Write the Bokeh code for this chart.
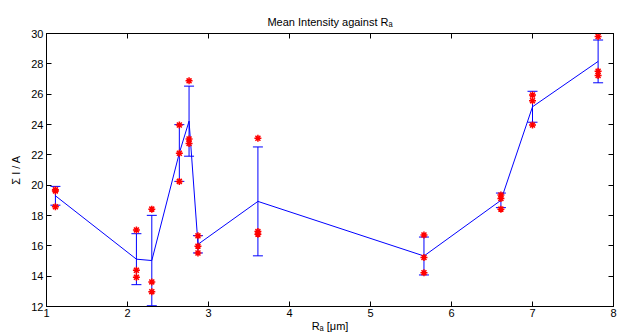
from bokeh.plotting import figure
from bokeh.models import (ColumnDataSource, Whisker, TeeHead, LinearAxis, FixedTicker,
                          Range1d, CustomJSTickFormatter)
from bokeh.embed import file_html
from bokeh.resources import INLINE

# ---- data ----
ra = [1.11, 2.11, 2.30, 2.64, 2.76, 2.87, 3.61, 5.66, 6.61, 7.00, 7.81]
samples_x = [1.11, 1.11, 1.11,
             2.11, 2.11, 2.11,
             2.30, 2.30, 2.30,
             2.64, 2.64, 2.64,
             2.76, 2.76, 2.76,
             2.87, 2.87, 2.87,
             3.61, 3.61, 3.61,
             5.66, 5.66, 5.66,
             6.61, 6.61, 6.61,
             7.00, 7.00, 7.00,
             7.81, 7.81, 7.81]
samples_y = [19.70, 19.62, 18.57,
             17.05, 14.39, 13.93,
             18.42, 13.62, 12.98,
             23.97, 22.10, 20.25,
             26.88, 23.05, 22.75,
             16.66, 15.98, 15.53,
             23.09, 16.94, 16.77,
             16.72, 15.23, 14.23,
             19.35, 19.12, 18.42,
             25.95, 25.57, 23.97,
             29.80, 27.51, 27.23]
mean_i = [19.30, 15.12, 15.03, 22.12, 24.22, 16.10, 18.93, 15.33, 19.00, 25.17, 28.16]
err_i = [0.62, 1.68, 2.98, 1.87, 2.31, 0.57, 3.59, 1.25, 0.48, 1.02, 1.41]
x_ticks = [1, 2, 3, 4, 5, 6, 7, 8]
y_ticks = [12, 14, 16, 18, 20, 22, 24, 26, 28, 30]

title_text = "Mean Intensity against R\u2090"
x_label = "R\u2090 [\u03bcm]"
y_label = "\u03a3 I / A"

# ---- layout (pixels) ----
W, H = 617, 334
L, R, T, B = 46, 613, 33, 306
FONT = "Liberation Sans"

p = figure(width=W, height=H, output_backend="svg", toolbar_location=None,
           x_range=Range1d(1, 8), y_range=Range1d(12, 30),
           min_border_left=L, min_border_right=W - R, min_border_top=T,
           min_border_bottom=H - B, x_axis_location=None, y_axis_location=None,
           title=title_text)
p.title.align = "center"
p.title.text_font = FONT
p.title.text_font_size = "11px"
p.title.text_font_style = "normal"
p.title.text_color = "black"
p.title.standoff = 12
p.xgrid.visible = False
p.ygrid.visible = False
p.outline_line_color = "black"
p.outline_line_width = 1
p.background_fill_color = "white"
p.border_fill_color = "white"

def style_axis(ax, ticks, labels=True):
    ax.ticker = FixedTicker(ticks=ticks)
    ax.major_tick_in = 5
    ax.major_tick_out = 0
    ax.minor_tick_line_color = None
    ax.axis_line_color = "black"
    ax.major_tick_line_color = "black"
    ax.major_label_text_font = FONT
    ax.major_label_text_font_size = "11px"
    ax.major_label_text_color = "black"
    ax.axis_label_text_font = FONT
    ax.axis_label_text_font_size = "11px"
    ax.axis_label_text_font_style = "normal"
    ax.axis_label_text_color = "black"
    if not labels:
        ax.formatter = CustomJSTickFormatter(code="return ''")
        ax.major_label_text_font_size = "0px"
        ax.major_label_standoff = 0

xb = LinearAxis(axis_label=x_label)
style_axis(xb, x_ticks)
xb.major_label_standoff = 2
xb.axis_label_standoff = 0
p.add_layout(xb, "below")
yl = LinearAxis(axis_label=y_label)
style_axis(yl, y_ticks)
yl.major_label_standoff = 3
yl.axis_label_standoff = 6
p.add_layout(yl, "left")
xt = LinearAxis()
style_axis(xt, x_ticks, labels=False)
p.add_layout(xt, "above")
yr = LinearAxis()
style_axis(yr, y_ticks, labels=False)
p.add_layout(yr, "right")

# ---- error bars ----
lower = [m - e for m, e in zip(mean_i, err_i)]
upper = [m + e for m, e in zip(mean_i, err_i)]
esrc = ColumnDataSource(dict(x=ra, lower=lower, upper=upper))
wh = Whisker(base="x", lower="lower", upper="upper", source=esrc,
             line_color="#0000ff", line_width=1,
             upper_head=TeeHead(size=10, line_color="#0000ff", line_width=1),
             lower_head=TeeHead(size=10, line_color="#0000ff", line_width=1))
p.add_layout(wh)

# ---- mean line ----
p.line(ra, mean_i, line_color="#0000ff", line_width=1)

# ---- samples ----
p.scatter(samples_x, samples_y, marker="asterisk", size=7, line_color="red",
          line_width=1.5)

open("out.html", "w").write(file_html(p, INLINE))
